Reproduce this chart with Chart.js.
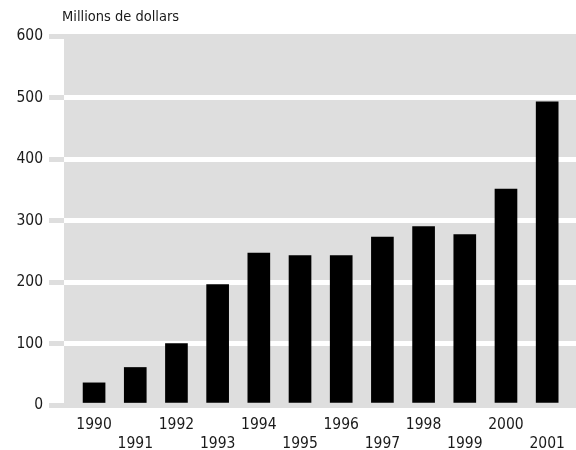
<!DOCTYPE html>
<html>
<head>
<meta charset="utf-8">
<script src="https://cdn.jsdelivr.net/npm/chart.js@4"></script>
<style>
  body { margin: 0; background: #fff; }
  #wrap { width: 576px; height: 450px; }
</style>
</head>
<body>
<div id="wrap"><canvas id="chart"></canvas></div>
<script>
const years = ["1990", "1991", "1992", "1993", "1994", "1995", "1996", "1997", "1998", "1999", "2000", "2001"];
const amounts = [36, 61, 100, 196, 247, 243, 243, 273, 290, 277, 351, 493];
const yTicks = [0, 100, 200, 300, 400, 500, 600];
const unitLabel = "Millions de dollars";

const FONT = "'DejaVu Sans Condensed', 'DejaVu Sans', sans-serif";
const GRAY = "#dedede";

// grey panel behind the bars, plus the unit label above it
const panel = {
  id: "panel",
  beforeDraw(chart) {
    const { ctx, chartArea: a } = chart;
    ctx.save();
    ctx.fillStyle = GRAY;
    ctx.fillRect(a.left, a.top - 2, a.right - a.left, a.bottom - a.top + 3);
    ctx.restore();
  },
  afterDraw(chart) {
    const { ctx, chartArea: a } = chart;
    ctx.save();
    ctx.fillStyle = "#1a1a1a";
    ctx.font = "14.5px " + FONT;
    ctx.textBaseline = "middle";
    ctx.fillText(unitLabel, a.left - 2, 17);
    ctx.restore();
  }
};

new Chart(document.getElementById("chart"), {
  type: "bar",
  data: {
    datasets: [{
      data: amounts.map((v, i) => ({ x: i, y: v })),
      backgroundColor: "#000",
      barThickness: 22
    }]
  },
  plugins: [panel],
  options: {
    responsive: true,
    maintainAspectRatio: false,
    animation: false,
    layout: { padding: { top: 36, right: 0, left: 0, bottom: 0 } },
    plugins: { legend: { display: false }, tooltip: { enabled: false } },
    scales: {
      x: {
        type: "linear",
        offset: false,
        min: -0.73,
        max: 11.7,
        grid: { display: false },
        border: { display: false },
        afterBuildTicks: (s) => { s.ticks = years.map((_, i) => ({ value: i })); },
        afterFit: (s) => { s.height = 45; },
        ticks: {
          color: "#1a1a1a",
          font: { family: FONT, size: 15.5, lineHeight: 1.22 },
          padding: 3,
          maxRotation: 0,
          autoSkip: false,
          callback: (v) => (v % 2 === 0 ? [years[v], ""] : ["", years[v]])
        }
      },
      y: {
        min: 0,
        max: 600,
        afterBuildTicks: (s) => { s.ticks = yTicks.map((v) => ({ value: v })); },
        afterFit: (s) => { s.width = 64; },
        border: { display: false },
        grid: {
          color: (c) => (c.tick && (c.tick.value === 0 || c.tick.value === 600) ? GRAY : "#fff"),
          lineWidth: 5,
          tickColor: GRAY,
          tickLength: 15
        },
        ticks: {
          color: "#1a1a1a",
          font: { family: FONT, size: 15.5 },
          padding: 6
        }
      }
    }
  }
});
</script>
</body>
</html>
